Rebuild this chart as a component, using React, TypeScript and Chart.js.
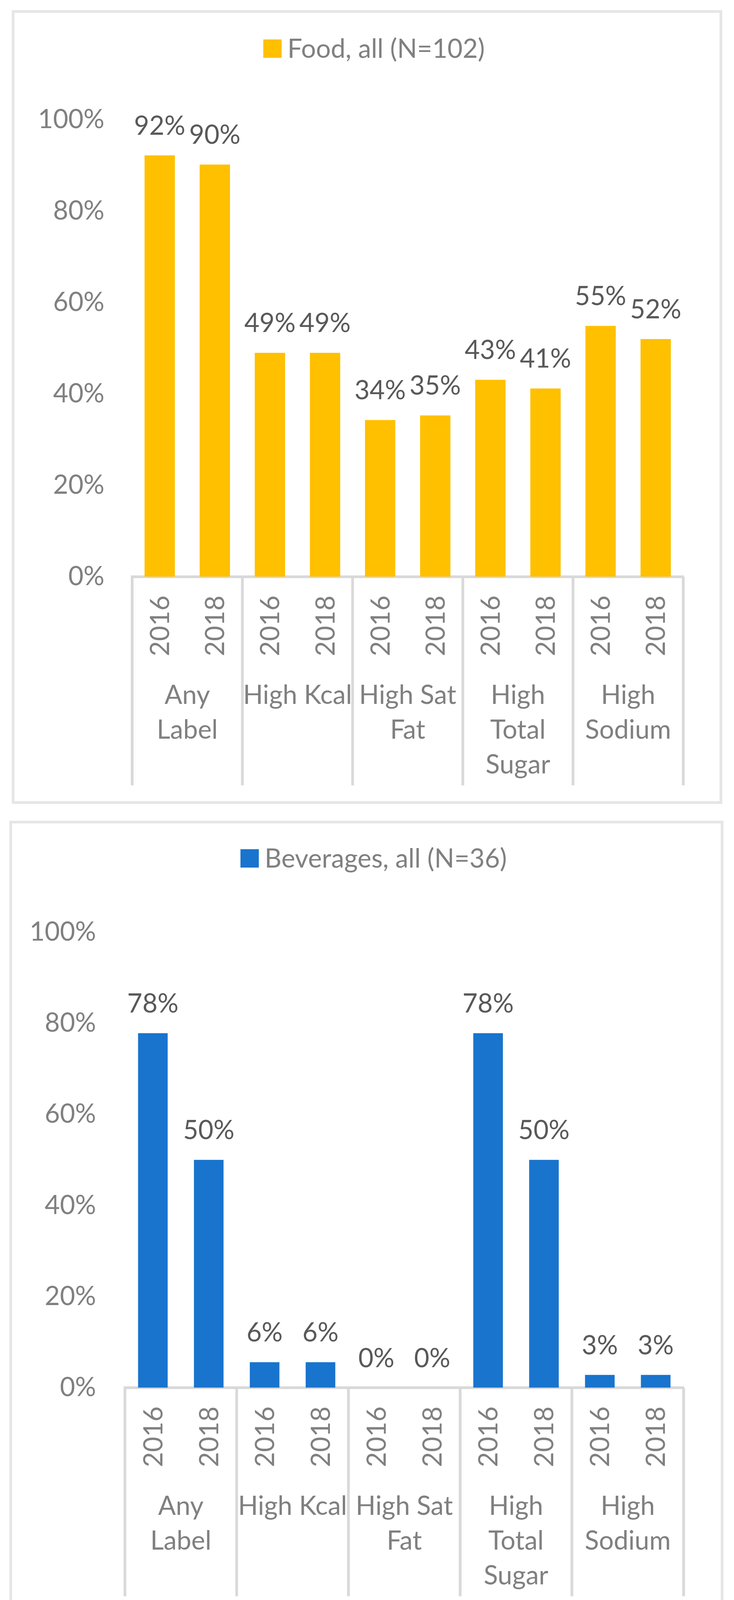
import React, { useEffect, useRef } from "react";
import { Chart, registerables } from "chart.js";

Chart.register(...registerables);

// ---------- data ----------
const years = ["2016", "2018"];
const categoryLines: string[][] = [
  ["Any", "Label"],
  ["High Kcal"],
  ["High Sat", "Fat"],
  ["High", "Total", "Sugar"],
  ["High", "Sodium"],
];
const xLabels = categoryLines.flatMap((c) => years.map((y) => `${c.join(" ")} ${y}`));
const foodValues = [92.2, 90.2, 49.0, 49.0, 34.3, 35.3, 43.1, 41.2, 54.9, 52.0];
const beverageValues = [77.8, 50.0, 5.6, 5.6, 0, 0, 77.8, 50.0, 2.8, 2.8];
const yTicks = [0, 20, 40, 60, 80, 100];
const foodLabel = "Food, all (N=102)";
const beverageLabel = "Beverages, all (N=36)";

// ---------- style ----------
const FONT = "Lato, 'Open Sans', sans-serif";
const FS = 67;
const AXIS_TEXT = "#808080";
const DATA_TEXT = "#595959";
const LINE = "#d9d9d9";

type Spec = {
  canvasTop: number;
  canvasHeight: number;
  plotLeft: number;
  plotRight: number;
  plotTop: number;
  plotBottom: number;
  barPct: number;
  label: string;
  color: string;
  values: number[];
  legendCenter: number;
  legendBaseline: number;
  yPad: number;
};

const specs: Spec[] = [
  {
    canvasTop: 0,
    canvasHeight: 2080,
    plotLeft: 338.5,
    plotRight: 1750,
    plotTop: 306.5,
    plotBottom: 1476.5,
    barPct: 0.55,
    label: foodLabel,
    color: "#FFC000",
    values: foodValues,
    legendCenter: 958,
    legendBaseline: 148,
    yPad: 71,
  },
  {
    canvasTop: 2080,
    canvasHeight: 2120,
    plotLeft: 320,
    plotRight: 1751,
    plotTop: 306,
    plotBottom: 1472.5,
    barPct: 0.53,
    label: beverageLabel,
    color: "#1874CD",
    values: beverageValues,
    legendCenter: 957,
    legendBaseline: 141,
    yPad: 74,
  },
];

const Y_AXIS_W = 250;
const X_AXIS_H = 600;

function Panel({ spec }: { spec: Spec }) {
  const ref = useRef<HTMLCanvasElement>(null);
  useEffect(() => {
    if (!ref.current) return;
    const decor = {
      id: "excelDecor",
      afterDraw(chart: any) {
        const ctx: CanvasRenderingContext2D = chart.ctx;
        const xs = chart.scales.x;
        const area = chart.chartArea;
        ctx.save();
        ctx.font = `${FS}px ${FONT}`;
        // legend
        const sq = 47;
        const tw = ctx.measureText(spec.label).width;
        const total = sq + 15 + tw;
        const lx = spec.legendCenter - total / 2;
        ctx.fillStyle = spec.color;
        ctx.fillRect(lx, spec.legendBaseline - sq, sq, sq);
        ctx.fillStyle = AXIS_TEXT;
        ctx.textAlign = "left";
        ctx.textBaseline = "alphabetic";
        ctx.fillText(spec.label, lx + sq + 15, spec.legendBaseline);

        // data labels
        const meta = chart.getDatasetMeta(0);
        const data = chart.data.datasets[0].data as number[];
        ctx.fillStyle = DATA_TEXT;
        ctx.textAlign = "center";
        meta.data.forEach((bar: any, i: number) => {
          ctx.fillText(`${Math.round(data[i])}%`, bar.x, bar.y - 53);
        });

        // group separators
        const n = chart.data.labels.length;
        const half = (xs.getPixelForValue(1) - xs.getPixelForValue(0)) / 2;
        ctx.fillStyle = LINE;
        for (let g = 0; g <= categoryLines.length; g++) {
          const idx = g * years.length;
          const px = idx < n ? xs.getPixelForValue(idx) - half : xs.getPixelForValue(n - 1) + half;
          ctx.fillRect(px - 3.5, area.bottom, 7, 534);
        }

        // year labels (rotated)
        const capH = FS * 0.7165;
        ctx.fillStyle = AXIS_TEXT;
        for (let i = 0; i < n; i++) {
          const cx = xs.getPixelForValue(i);
          ctx.save();
          ctx.translate(cx + capH / 2, area.bottom + 48);
          ctx.rotate(-Math.PI / 2);
          ctx.textAlign = "right";
          ctx.textBaseline = "alphabetic";
          ctx.fillText(years[i % years.length], 0, 0);
          ctx.restore();
        }

        // category labels
        ctx.textAlign = "center";
        ctx.textBaseline = "alphabetic";
        categoryLines.forEach((lines, g) => {
          const a = xs.getPixelForValue(g * years.length);
          const b = xs.getPixelForValue(g * years.length + years.length - 1);
          const cx = (a + b) / 2;
          lines.forEach((t, k) => {
            ctx.fillText(t, cx, area.bottom + 325 + k * 89);
          });
        });
        ctx.restore();
      },
    };

    const chart = new Chart(ref.current, {
      type: "bar",
      data: {
        labels: xLabels,
        datasets: [
          {
            label: spec.label,
            data: spec.values,
            backgroundColor: spec.color,
            borderWidth: 0,
            barPercentage: spec.barPct,
            categoryPercentage: 1,
          },
        ],
      },
      options: {
        responsive: false,
        animation: false,
        devicePixelRatio: 1,
        layout: {
          padding: {
            left: spec.plotLeft - Y_AXIS_W,
            right: 1880 - spec.plotRight,
            top: spec.plotTop,
            bottom: spec.canvasHeight - spec.plotBottom - X_AXIS_H,
          },
        },
        plugins: {
          legend: { display: false },
          tooltip: { enabled: false },
        },
        scales: {
          x: {
            type: "category",
            offset: true,
            grid: { display: false, drawTicks: false },
            border: { display: true, color: LINE, width: 7 },
            ticks: { display: false },
            afterFit: (s: any) => {
              s.height = X_AXIS_H;
            },
          },
          y: {
            type: "linear",
            min: 0,
            max: 100,
            grid: { display: false, drawTicks: false },
            border: { display: false },
            ticks: {
              padding: spec.yPad,
              color: AXIS_TEXT,
              font: { family: FONT, size: FS },
              callback: (v: any) => `${v}%`,
            },
            afterBuildTicks: (s: any) => {
              s.ticks = yTicks.map((v) => ({ value: v }));
            },
            afterFit: (s: any) => {
              s.width = Y_AXIS_W;
            },
          },
        },
      },
      plugins: [decor],
    } as any);
    return () => chart.destroy();
  }, [spec]);
  return (
    <canvas
      ref={ref}
      width={1880}
      height={spec.canvasHeight}
      style={{
        position: "absolute",
        left: 0,
        top: spec.canvasTop,
        width: 1880,
        height: spec.canvasHeight,
      }}
    />
  );
}

export default function App() {
  return (
    <div
      style={{
        position: "absolute",
        left: 0,
        top: 0,
        width: 1880,
        height: 4285,
        background: "#ffffff",
        overflow: "hidden",
      }}
    >
      <div
        style={{
          position: "absolute",
          left: 30,
          top: 26,
          width: 1820,
          height: 2032,
          border: "7px solid #e6e6e6",
          boxSizing: "border-box",
        }}
      />
      <div
        style={{
          position: "absolute",
          left: 24,
          top: 2101,
          width: 1829,
          height: 2033,
          border: "7px solid #e6e6e6",
          boxSizing: "border-box",
        }}
      />
      <Panel spec={specs[0]} />
      <Panel spec={specs[1]} />
      <div
        style={{
          position: "absolute",
          left: 0,
          width: 1875,
          top: 4186,
          textAlign: "center",
          fontFamily: "'Liberation Serif', 'Times New Roman', serif",
          fontSize: 82,
          lineHeight: "82px",
          color: "#000",
        }}
      >
        (<b>b</b>)
      </div>
    </div>
  );
}
